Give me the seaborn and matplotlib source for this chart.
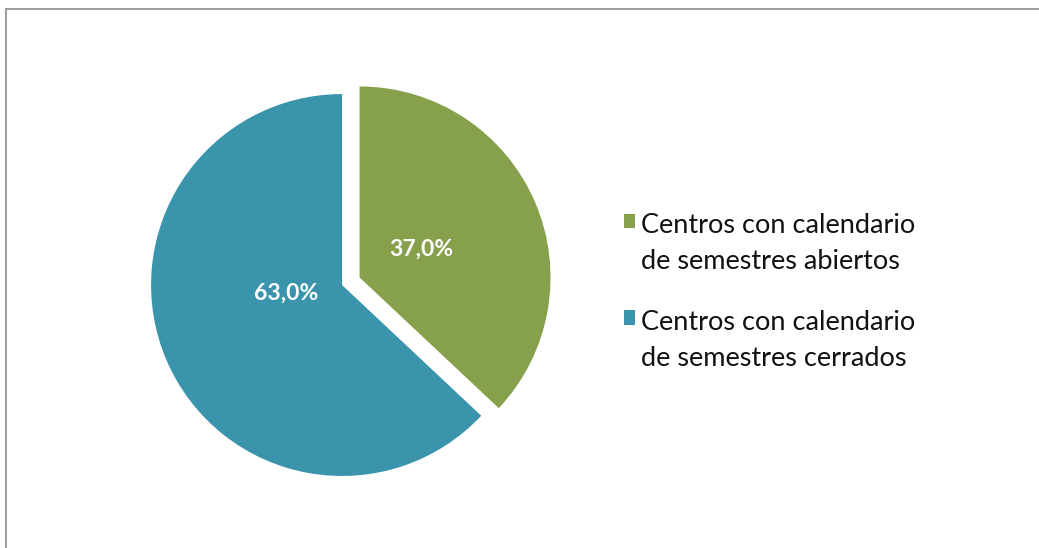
import numpy as np
import pandas as pd
import seaborn as sns
import matplotlib.pyplot as plt
from matplotlib.lines import Line2D
from matplotlib.patches import Patch, Rectangle
from matplotlib.legend_handler import HandlerPatch

# data
categorias = ["Centros con calendario\nde semestres abiertos",
              "Centros con calendario\nde semestres cerrados"]
porcentajes = [37.0, 63.0]
colores = ["#86A04B", "#3A94AC"]
separacion = [0.1, 0.0]

sns.set_theme(style="white")
plt.rcParams['font.family'] = ['Lato', 'DejaVu Sans']

fig = plt.figure(figsize=(10.39, 5.48), dpi=100)
ax = fig.add_axes([0.1362, 0.114, 0.386, 0.7318])

wedges, texts, autotexts = ax.pie(
    porcentajes, colors=colores, explode=separacion, startangle=90,
    counterclock=False, radius=1.0, pctdistance=0.33,
    autopct=lambda p: f"{p:.1f}%".replace(".", ","),
    wedgeprops=dict(linewidth=0),
    textprops=dict(color="white", fontsize=16.5, fontweight="bold"))
# excel puts the big slice label a bit higher
x, y = autotexts[1].get_position()
autotexts[1].set_position((x + 0.01, y + 0.09))
x, y = autotexts[0].get_position()
autotexts[0].set_position((x + 0.02, y + 0.015))
ax.set_xlim(-1.05, 1.05)
ax.set_ylim(-1.05, 1.05)
ax.axis("off")


def cuadro_arriba(legend, orig_handle, xdescent, ydescent, width, height, fontsize):
    # square sits next to the first line of the label
    return Rectangle((-xdescent, -ydescent + 0.85 * fontsize), width, height)


handles = [Patch(facecolor=c, edgecolor="none") for c in colores]
leg = fig.legend(handles, categorias, loc="center left", bbox_to_anchor=(0.577, 0.467),
                 frameon=False, fontsize=19.5, handlelength=0.42, handleheight=0.42,
                 handletextpad=0.22, labelspacing=1.3, labelcolor="#111111",
                 handler_map={Patch: HandlerPatch(patch_func=cuadro_arriba)})
for t in leg.get_texts():
    t.set_linespacing(1.55)

# thin grey frame on the top and left edges
fig.add_artist(Line2D([6 / 1039, 1.0], [1 - 9 / 548, 1 - 9 / 548],
                      color="#8c8c8c", linewidth=1.2, transform=fig.transFigure))
fig.add_artist(Line2D([6 / 1039, 6 / 1039], [0.0, 1 - 9 / 548],
                      color="#8c8c8c", linewidth=1.2, transform=fig.transFigure))

fig.savefig("out.png", dpi=100)
